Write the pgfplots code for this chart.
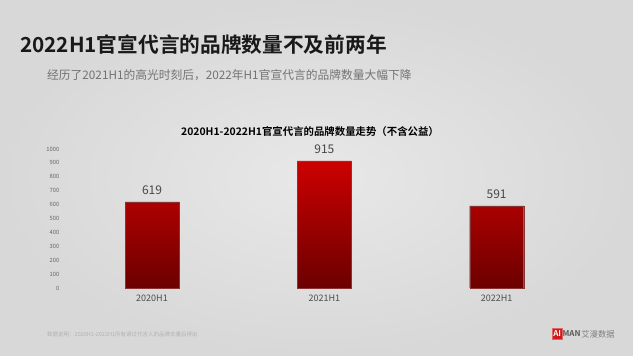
\documentclass[border=0pt]{standalone}
\usepackage{pgfplots}
\pgfplotsset{compat=1.18}
\usepackage{fontspec}
\setmainfont{Noto Sans CJK SC}[BoldFont={Noto Sans CJK SC Bold}]
\usetikzlibrary{shadings}
\definecolor{bgin}{HTML}{E8E8E8}
\definecolor{bgout}{HTML}{D8D8D8}
\definecolor{bartop}{HTML}{CC0000}
\definecolor{barbot}{HTML}{6C0000}
\begin{document}
\begin{tikzpicture}[x=1pt,y=1pt]
\shade[inner color=bgin, outer color=bgout] (0pt,0pt) rectangle (633pt,356pt);
\node[anchor=base west, font=\bfseries\fontsize{20.7}{24}\selectfont, text=black!90, inner sep=0] at (20pt,303pt) {2022H1官宣代言的品牌数量不及前两年};
\node[anchor=base west, font=\fontsize{11.75}{14}\selectfont, text=black!55, inner sep=0] at (47pt,276pt) {经历了2021H1的高光时刻后，2022年H1官宣代言的品牌数量大幅下降};
\node[anchor=base, font=\bfseries\fontsize{10.4}{12}\selectfont, text=black, inner sep=0] at (310pt,220pt) {2020H1-2022H1官宣代言的品牌数量走势（不含公益）};
\begin{axis}[
  at={(152pt,68pt)}, anchor=origin,
  scale only axis, width=517pt, height=139pt,
  xmin=-0.5, xmax=2.5, ymin=0, ymax=1000,
  xtick={0,1,2}, xticklabels={2020H1,2021H1,2022H1},
  ytick={0,100,...,1000},
  axis line style={draw=none}, tick style={draw=none},
  /pgf/number format/assume math mode=true,
  /pgf/number format/1000 sep={},
  yticklabel style={font=\fontsize{5.8}{6}\selectfont, text=black!60, xshift=-3pt},
  xticklabel style={font=\fontsize{9}{10}\selectfont, text=black!70, yshift=-3.5pt},
  nodes near coords,
  nodes near coords style={font=\fontsize{12}{13}\selectfont, text=black!72, yshift=4pt},
  clip=false,
]
\addplot[ybar, bar width=54pt, draw=barbot!80, line width=0.3pt, top color=bartop, bottom color=barbot] coordinates {(0,619) (1,915) (2,591)};
\end{axis}
\node[anchor=base west, font=\fontsize{5.5}{6}\selectfont, text=black!30, inner sep=0] at (47pt,19pt) {数据说明：2020H1-2022H1所有请过代言人的品牌去重后得出};
\node[fill=bartop!90, draw=bartop!60, text=white, font=\bfseries\fontsize{8}{9}\selectfont, inner sep=0.8pt, minimum width=10pt, minimum height=11pt, anchor=west] (ai) at (552pt,22pt) {AI};
\node[anchor=west, font=\bfseries\fontsize{8}{9}\selectfont, text=black!65, inner sep=0] (man) at (ai.east) {MAN};
\node[anchor=west, font=\fontsize{8.3}{9}\selectfont, text=black!50, inner sep=0.5pt] at (man.east) {艾漫数据};
\end{tikzpicture}
\end{document}
